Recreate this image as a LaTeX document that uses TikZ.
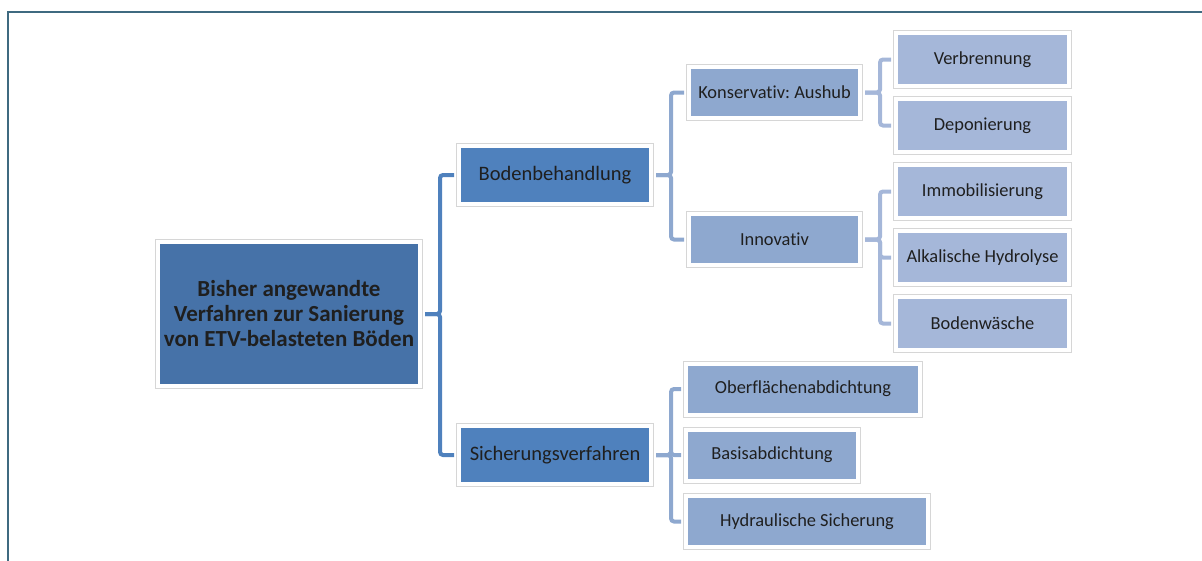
\documentclass[tikz,border=0pt]{standalone}
\usepackage{fontspec}
\setmainfont{Carlito}[Ligatures={NoCommon}]
\frenchspacing
\definecolor{frameblue}{HTML}{3F6A80}
\definecolor{rootblue}{HTML}{4672A8}
\definecolor{mainblue}{HTML}{4F81BD}
\definecolor{midblue}{HTML}{8EA8CF}
\definecolor{paleblue}{HTML}{A5B7D9}
\definecolor{rimgray}{HTML}{D6D6D6}
\begin{document}
\begin{tikzpicture}[x=1pt,y=-1pt]
		\tikzset{box/.style = {draw=white, line width=4pt, preaction={draw=rimgray, line width=6pt}, inner sep=0pt, text=black!88, align=center}}
		\tikzset{rootbox/.style = {box, fill=rootblue, minimum width=262pt, minimum height=144pt, font=\fontsize{23}{25}\selectfont\bfseries}}
		\tikzset{mainbox/.style = {box, fill=mainblue, minimum width=192pt, minimum height=58pt, font=\fontsize{20.5}{24}\selectfont}}
		\tikzset{subbox/.style = {box, fill=midblue, minimum height=51pt, font=\fontsize{18.4}{22}\selectfont}}
		\tikzset{leafbox/.style = {box, fill=paleblue, minimum width=173pt, minimum height=53pt, font=\fontsize{18.4}{22}\selectfont}}
		\tikzset{edge/.style = {draw=mainblue, line width=4pt, rounded corners=3pt, shorten <=3pt, shorten >=3pt,
				to path = {(\tikztostart.east) -- ++(18,0) |- (\tikztotarget.west)}}}
		
		\useasboundingbox (0,0) rectangle (1202,560);
		\draw[frameblue, line width=2pt] (8,561) -- (8,12) -- (1203,12);
		
		\node[rootbox]  (1) at (  289,   314) {Bisher angewandte\\Verfahren zur Sanierung\\von ETV-belasteten Böden};
		\node[mainbox]  (2) at (  555,   175) {Bodenbehandlung};
		\node[mainbox]  (3) at (  555,   455) {Sicherungsverfahren};
		\node[subbox, minimum width=171pt]  (4) at (774.5,  92.5) {Konservativ: Aushub};
		\node[subbox, minimum width=171pt]  (5) at (774.5, 239.5) {Innovativ};
		\node[leafbox]  (6) at (982.5,  59.5) {Verbrennung};
		\node[leafbox]  (7) at (982.5, 125.5) {Deponierung};
		\node[leafbox]  (8) at (982.5, 191.5) {Immobilisierung};
		\node[leafbox]  (9) at (982.5, 257.5) {Alkalische Hydrolyse};
		\node[leafbox] (10) at (982.5, 323.5) {Bodenwäsche};
		\node[subbox, minimum width=234pt] (11) at (  803,   389) {Oberflächenabdichtung};
		\node[subbox, minimum width=172pt] (12) at (  772,   455) {Basisabdichtung};
		\node[subbox, minimum width=242pt] (13) at (  807, 521.5) {Hydraulische Sicherung};
		
		\draw[edge] (1) to  (2);
		\draw[edge] (1) to  (3);
		
		\tikzset{edge/.append style = {draw=midblue}}
		\draw[edge] (2) to  (4);
		\draw[edge] (2) to  (5);
		\draw[edge] (3) to (11);
		\draw[edge] (3) to (12);
		\draw[edge] (3) to (13);
		
		\tikzset{edge/.append style = {draw=paleblue}}
		\draw[edge] (4) to  (6);
		\draw[edge] (4) to  (7);
		\draw[edge] (5) to  (8);
		\draw[edge] (5) to  (9);
		\draw[edge] (5) to (10);
		\end{tikzpicture}
\end{document}
